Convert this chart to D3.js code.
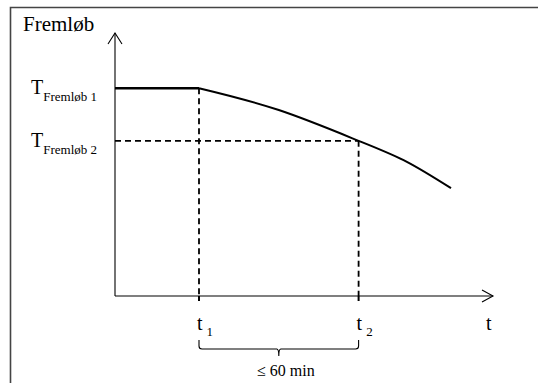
<!DOCTYPE html>
<html>
<head>
<meta charset="utf-8">
<script src="https://cdn.jsdelivr.net/npm/d3@7"></script>
<style>
  body { margin: 0; background: #fff; }
</style>
</head>
<body>
<div id="chart"></div>
<script>
// Data (arbitrary units)
var tMarks = [{name: "t", sub: "1", t: 2}, {name: "t", sub: "2", t: 5.8}];
var tempMarks = [{name: "T", sub: "Fremløb 1", v: 79}, {name: "T", sub: "Fremløb 2", v: 59}];
var flatPart = [[0, 79], [2, 79]];
var curvePart = [[2, 79], [3.9, 70.7], [5.8, 59], [6.95, 51], [8, 41]];
var axisMax = {t: 9, v: 100};
var yTitle = "Fremløb",
    xTitle = "t",
    braceLabel = "≤ 60 min";

var W = 538, H = 383,
    font_family = "Liberation Serif, Times New Roman, serif";

// Scales
var x = d3.scaleLinear().domain([0, axisMax.t]).range([115, 493]),
    y = d3.scaleLinear().domain([0, axisMax.v]).range([296, 33]);

var svg = d3.select("#chart").append("svg")
    .attr("width", W)
    .attr("height", H)
    .attr("font-family", font_family);

// Frame (open at right / bottom like the clipped original)
svg.append("path")
    .attr("d", "M10.5," + (H + 2) + "V7.5H" + (W + 2))
    .attr("fill", "none")
    .attr("stroke", "#444")
    .attr("stroke-width", 1.6);

var axes = svg.append("g")
    .attr("fill", "none")
    .attr("stroke", "#000")
    .attr("stroke-width", 1.1);

// y axis with open arrow
axes.append("line")
    .attr("x1", x(0)).attr("y1", y(0))
    .attr("x2", x(0)).attr("y2", y(axisMax.v));
axes.append("path")
    .attr("d", "M" + (x(0) - 7) + "," + (y(axisMax.v) + 11) + "L" + x(0) + "," + y(axisMax.v) + "L" + (x(0) + 7) + "," + (y(axisMax.v) + 11));

// x axis with open arrow
axes.append("line")
    .attr("x1", x(0)).attr("y1", y(0))
    .attr("x2", x(axisMax.t)).attr("y2", y(0));
axes.append("path")
    .attr("d", "M" + (x(axisMax.t) - 11) + "," + (y(0) - 6) + "L" + x(axisMax.t) + "," + y(0) + "L" + (x(axisMax.t) - 11) + "," + (y(0) + 6));

// ticks at t1, t2
axes.selectAll(".tick")
  .data(tMarks)
  .enter().append("line")
    .attr("x1", function(d) { return x(d.t); })
    .attr("x2", function(d) { return x(d.t); })
    .attr("y1", y(0))
    .attr("y2", y(0) + 5)
    .attr("stroke-width", 2);

// Dashed guide lines
var line = d3.line()
    .x(function(d) { return x(d[0]); })
    .y(function(d) { return y(d[1]); });

var guides = svg.append("g")
    .attr("fill", "none")
    .attr("stroke", "#000")
    .attr("stroke-width", 1.8)
    .attr("stroke-dasharray", "6,4");

// T2 horizontal
guides.append("path")
    .attr("d", line([[0, tempMarks[1].v], [tMarks[1].t, tempMarks[1].v]]));
// t1 / t2 verticals
guides.append("path")
    .attr("d", line([[tMarks[0].t, tempMarks[0].v], [tMarks[0].t, 0]]));
guides.append("path")
    .attr("d", line([[tMarks[1].t, tempMarks[1].v], [tMarks[1].t, 0]]));

// Flat part (thick) and falling curve
svg.append("path")
    .attr("d", line(flatPart))
    .attr("fill", "none")
    .attr("stroke", "#000")
    .attr("stroke-width", 2.6);

svg.append("path")
    .attr("d", line.curve(d3.curveNatural)(curvePart))
    .attr("fill", "none")
    .attr("stroke", "#000")
    .attr("stroke-width", 2);

// Titles
svg.append("text")
    .attr("x", 23).attr("y", 31)
    .attr("font-size", 21)
    .text(yTitle);

svg.append("text")
    .attr("x", x(axisMax.t) - 7).attr("y", 330)
    .attr("font-size", 20)
    .text(xTitle);

// T labels with subscripts
var tLab = svg.selectAll(".tlab")
  .data(tempMarks)
  .enter().append("text")
    .attr("class", "tlab")
    .attr("x", 31)
    .attr("y", function(d) { return y(d.v) + 6; })
    .attr("font-size", 20);
tLab.append("tspan").text(function(d) { return d.name; });
tLab.append("tspan")
    .attr("font-size", 13)
    .attr("dy", 7)
    .text(function(d) { return d.sub; });

// t labels with subscripts
var xLab = svg.selectAll(".xlab")
  .data(tMarks)
  .enter().append("text")
    .attr("class", "xlab")
    .attr("x", function(d) { return x(d.t) - 2; })
    .attr("y", 330)
    .attr("font-size", 20);
xLab.append("tspan").text(function(d) { return d.name; });
xLab.append("tspan")
    .attr("font-size", 13)
    .attr("dx", 4)
    .attr("dy", 6)
    .text(function(d) { return d.sub; });

// Brace between t1 and t2
var bx1 = x(tMarks[0].t), bx2 = x(tMarks[1].t), bm = (bx1 + bx2) / 2,
    by0 = 340, by1 = 349;
svg.append("path")
    .attr("d", "M" + bx1 + "," + by0 +
      "V" + (by1 - 3) + "Q" + bx1 + "," + by1 + " " + (bx1 + 3) + "," + by1 +
      "H" + (bm - 2) + "Q" + bm + "," + by1 + " " + bm + "," + (by1 + 7) +
      "Q" + bm + "," + by1 + " " + (bm + 2) + "," + by1 +
      "H" + (bx2 - 3) + "Q" + bx2 + "," + by1 + " " + bx2 + "," + (by1 - 3) +
      "V" + by0)
    .attr("fill", "none")
    .attr("stroke", "#000")
    .attr("stroke-width", 1.1);

svg.append("text")
    .attr("x", bm + 7).attr("y", 376)
    .attr("font-size", 16)
    .attr("text-anchor", "middle")
    .text(braceLabel);
</script>
</body>
</html>
